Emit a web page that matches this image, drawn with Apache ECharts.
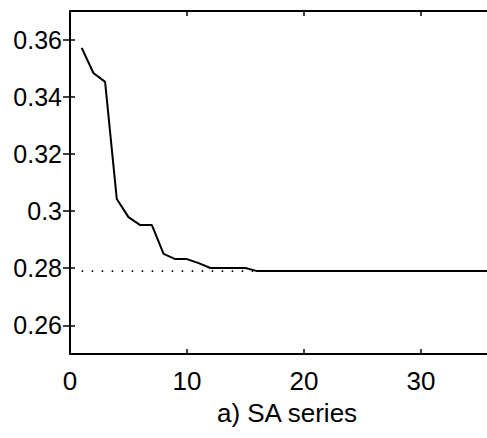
<!DOCTYPE html>
<html>
<head>
<meta charset="utf-8">
<script src="https://cdn.jsdelivr.net/npm/echarts@6/dist/echarts.min.js"></script>
<style>
  html, body { margin: 0; padding: 0; background: #fff; }
  #chart { width: 487px; height: 438px; }
</style>
</head>
<body>
<div id="chart"></div>
<script>
// SA series
const iterations = [1, 2, 3, 4, 5, 6, 7, 8, 9, 10, 11, 12, 13, 14, 15, 16, 36];
const saValues = [0.3571, 0.3483, 0.3452, 0.3042, 0.2979, 0.2951, 0.2951, 0.2850,
                  0.2832, 0.2832, 0.2818, 0.2801, 0.2801, 0.2801, 0.2801, 0.2790, 0.2790];
// dotted reference level
const refX = [1, 16];
const refValue = 0.2790;
const xTicks = [0, 10, 20, 30];
const yTicks = [0.26, 0.28, 0.3, 0.32, 0.34, 0.36];

const FONT = "'Liberation Sans', Arial, sans-serif";

const chart = echarts.init(document.getElementById("chart"), null, { renderer: "svg" });

const axisLine = { show: true, onZero: false, lineStyle: { color: "#000", width: 2 } };
const tick = { show: true, inside: true, length: 5, lineStyle: { color: "#000", width: 1.5 } };

const option = {
    animation: false,
    backgroundColor: "#fff",
    // right edge sits just past the window, like the cropped scan
    grid: { left: 70, right: -3, top: 11, bottom: 84, outerBoundsMode: "none" },
    title: {
        text: "a) SA series",
        left: 282, top: 395, textAlign: "center",
        textStyle: { fontFamily: FONT, fontSize: 26, fontWeight: "normal", color: "#000" }
    },
    xAxis: [
        {
            type: "value", min: 0, max: 35.9, interval: 10,
            axisLine, splitLine: { show: false },
            axisTick: Object.assign({ customValues: xTicks }, tick),
            axisLabel: { customValues: xTicks, margin: 14, color: "#000", fontFamily: FONT, fontSize: 26 }
        },
        {
            type: "value", position: "top", min: 0, max: 35.9, interval: 10,
            axisLine, splitLine: { show: false }, axisLabel: { show: false },
            axisTick: Object.assign({ customValues: xTicks }, tick)
        }
    ],
    yAxis: [
        {
            type: "value", min: 0.25, max: 0.37, interval: 0.01,
            axisLine, splitLine: { show: false },
            axisTick: Object.assign({ customValues: yTicks }, tick),
            axisLabel: {
                customValues: yTicks, margin: 8, color: "#000", fontFamily: FONT, fontSize: 25,
                formatter: v => String(Math.round(v * 100) / 100)
            }
        },
        {
            type: "value", position: "right", min: 0.25, max: 0.37, interval: 0.01,
            axisLine: { show: false }, splitLine: { show: false }, axisLabel: { show: false },
            axisTick: Object.assign({ customValues: yTicks }, tick, { length: 7 })
        }
    ],
    series: [
        {
            type: "line", name: "ref", showSymbol: false,
            data: refX.map(x => [x, refValue]),
            lineStyle: { color: "#000", width: 1.8, type: [1.5, 8.5] },
            z: 1
        },
        {
            type: "line", name: "SA", showSymbol: false,
            data: iterations.map((x, i) => [x, saValues[i]]),
            lineStyle: { color: "#000", width: 2 },
            z: 2
        }
    ]
};

chart.setOption(option);
</script>
</body>
</html>
